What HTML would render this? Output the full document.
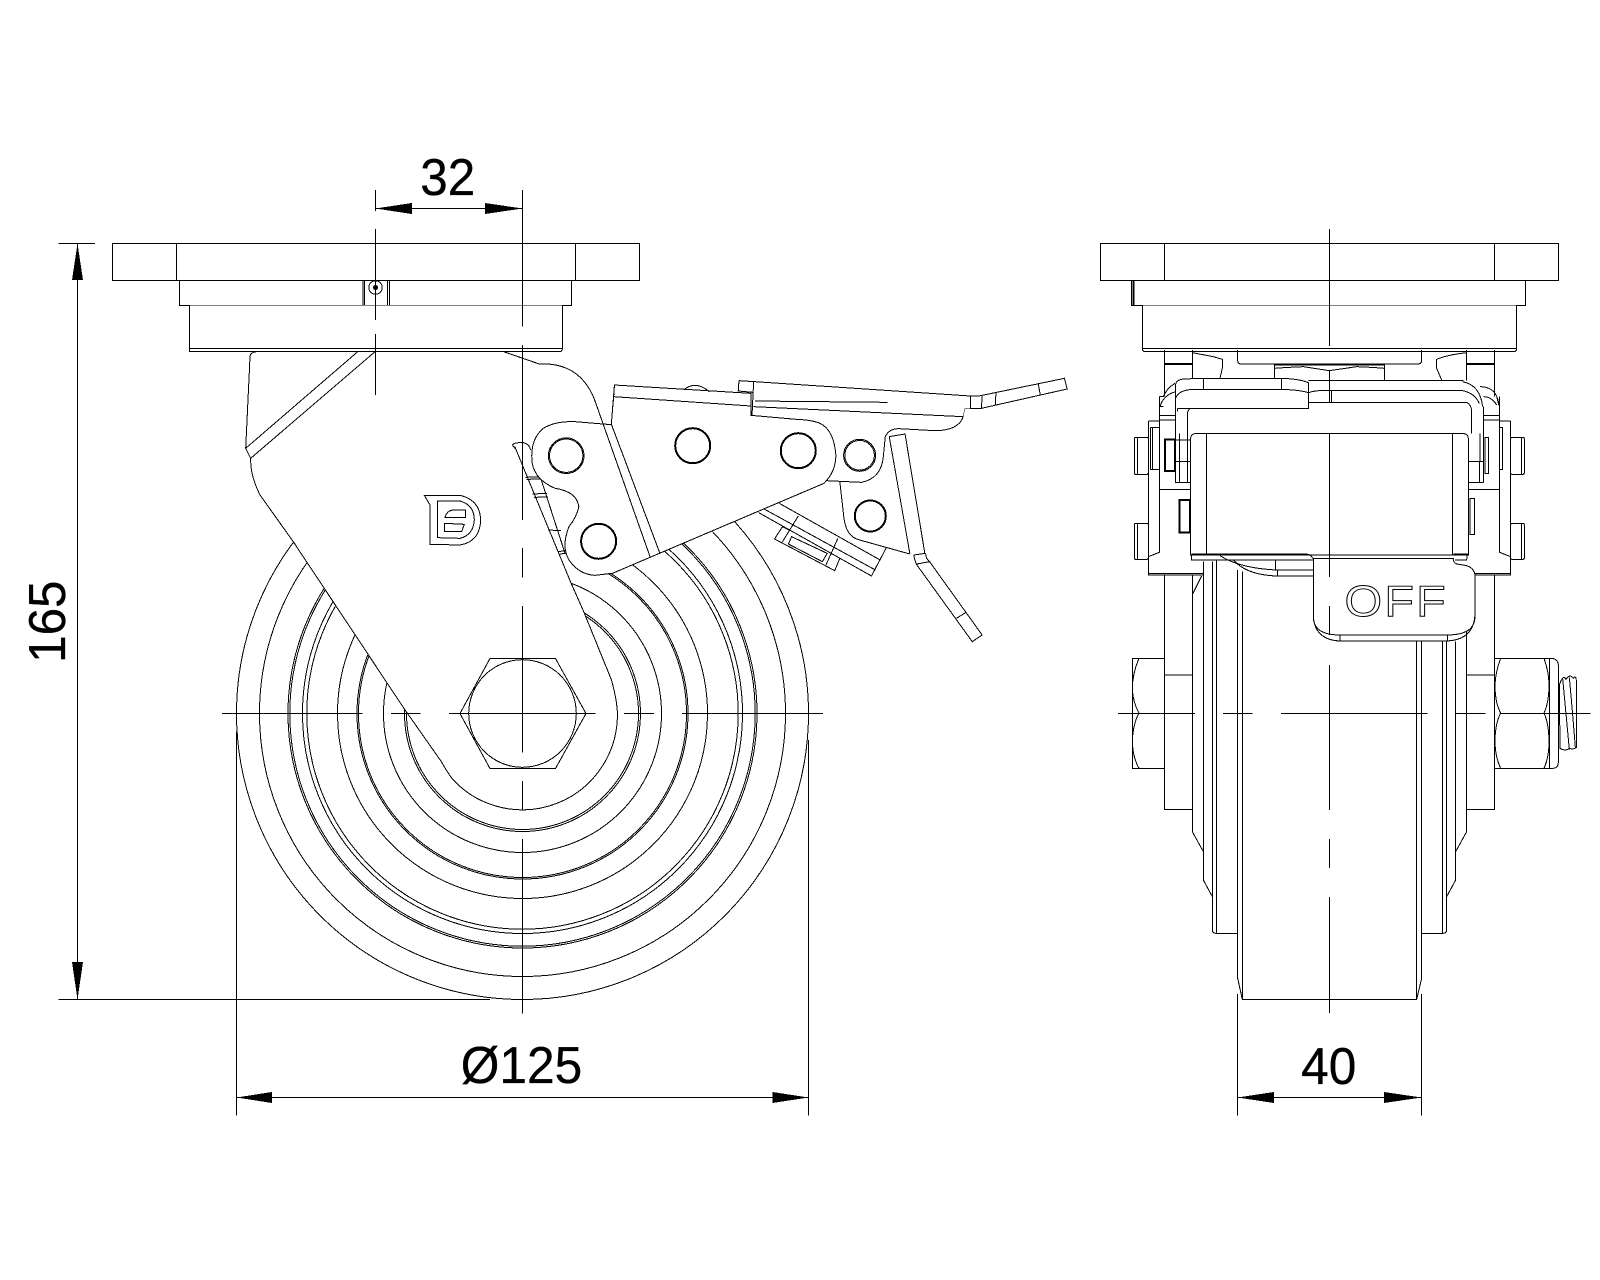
<!DOCTYPE html>
<html><head><meta charset="utf-8"><style>
html,body{margin:0;padding:0;background:#fff}
svg{display:block}
svg *{vector-effect:non-scaling-stroke}
.l{fill:none;stroke:#000;stroke-width:1}
.w{fill:#fff;stroke:#000;stroke-width:1}
.n{fill:#fff;stroke:none}
.t{font-family:"Liberation Sans",sans-serif;font-size:52px;fill:#000;stroke:#000;stroke-width:.3}
</style></head><body>
<svg width="1600" height="1280" viewBox="0 0 1600 1280" xmlns="http://www.w3.org/2000/svg" shape-rendering="crispEdges">
<rect width="1600" height="1280" fill="#fff"/>

<!-- wheel rings -->
<g class="l" fill="none">
<circle cx="522.5" cy="713.5" r="286"/><circle cx="522.5" cy="713.5" r="263"/>
<circle cx="522.5" cy="713.5" r="234.5"/><circle cx="522.5" cy="713.5" r="232.7"/>
<circle cx="522.5" cy="713.5" r="220"/><circle cx="522.5" cy="713.5" r="215.7"/>
<circle cx="522.5" cy="713.5" r="185"/><circle cx="522.5" cy="713.5" r="165.5"/>
<circle cx="522.5" cy="713.5" r="164"/><circle cx="522.5" cy="713.5" r="139"/>
<circle cx="522.5" cy="713.5" r="118"/><circle cx="522.5" cy="713.5" r="116"/>
</g>

<!-- fork -->
<path class="n" d="M256.7,351.7 Q250,352 250,357 L245.7,448.3 L250.7,458.3 Q250,475 260,495 L293.3,541.7 L403.9,708.3 L441.4,761.7 L453.3,780 A95,95 0 0 0 617.4,713.3 Q617,700 611.5,680 L583,610 L571,583 L594.7,400 L539.3,364 L503.7,351.7 Z"/>
<path class="l" d="M256.7,351.7 Q250,352 250,357 L245.7,448.3 L250.7,458.3 Q250,475 260,495 L293.3,541.7 L403.9,708.3 L441.4,761.7 Q447,772 453.3,780 A95,95 0 0 0 617.4,713.3 Q617,700 611.5,680 L583,610 L571,583 L514.8,446.7"/>
<path class="l" d="M503.7,351.7 L539.3,364 Q580,362 594.7,400"/>
<path class="l" d="M357.7,351.7 L245.7,448.3 M375,351.7 L250.7,458.3"/>

<!-- logo -->
<g transform="translate(235,345) scale(.33333)">
<path class="l" d="M568,451 L675,451 Q735,465 737,525 Q735,590 675,600 L585,598 L585,480 Z"/>
<path class="l" d="M607,468 L675,468 Q718,480 718,525 Q715,570 675,580 L607,578 Z"/>
<path class="l" d="M630,518 Q635,497 655,495 L692,495 L692,518 Z M628,535 L688,538 L680,560 L628,560 Z"/>
</g>

<!-- hex bolt -->
<path class="l" d="M490,658.5 H555.5 L586,713.5 L555.5,768.5 H490 L460,713.5 Z"/>
<circle class="l" cx="522.5" cy="713.5" r="53.8"/>

<!-- left view top plate -->
<g class="w">
<rect x="112.5" y="243.5" width="527" height="37"/>
<rect x="179.5" y="280.5" width="392" height="25"/>
<path d="M189.5,305.5 V351.5 H561 L562.5,349 V305.5"/>
</g>
<path class="l" d="M176.5,243.5 V280.5 M575.5,243.5 V280.5 M189.5,348.5 H562.5"/>
<path class="l" d="M363,280.5 V305.5 M364.5,280.5 V305.5 M387.5,280.5 V305.5 M389.5,280.5 V305.5"/>
<circle class="l" cx="375.5" cy="287.5" r="6.7"/><circle cx="375.5" cy="287.5" r="2.5" fill="#000"/>

<!-- lever assembly, zoom coords -->
<g transform="translate(480,340) scale(.39541,.33333)">
<!-- lower rect pieces -->
<path class="l" d="M757,490 L1012,660 M720,508 L1000,690 M705,518 L990,708 L1028,622 M805,528 L765,605 M905,595 L875,675"/>
<path class="l" d="M765,560 L745,597 L897,692 L910,655 M765,560 L785,572 M788,590 L878,640 L866,665 L780,612 Z"/>
<!-- right plate -->
<path class="w" d="M875,422 L965,427 Q1015,415 1020,350 L1025,290 Q1035,265 1060,266 L1150,272 Q1210,272 1225,205 L1222,230 L1222,160 L800,150 L800,420 Z" style="stroke:none"/>
<path class="l" d="M875,422 L965,427 Q1015,415 1020,350 L1025,290 Q1035,265 1060,266 L1150,272 Q1210,272 1222,230 L1225,205 H1240"/>
<path class="l" d="M910,425 L920,530 Q925,590 960,600 L1087,642"/>
<!-- stop piece -->
<path class="l" d="M82,315 Q85,308 100,308 L110,308 Q125,312 128,330 M82,315 L88,325 M155,420 L215,640 M115,412 L155,410 M118,418 L157,417 M133,462 L170,460 M137,472 L172,471 M172,570 L205,572 M198,635 L215,632 M202,642 L218,640"/>
<!-- main plate -->
<path class="w" d="M332,254 L240,245 Q190,243 160,265 Q125,300 132,370 Q140,420 190,445 Q245,455 250,500 Q245,530 225,560 Q205,620 225,660 Q250,703 290,706 L335,700 L870,430 Q900,395 900,345 Q895,270 860,250 Q840,240 800,238 L685,226 L685,198 L338,170 Z"/>
<path class="w" d="M340,135 L685,160 L685,198 L338,170 Z"/>
<path class="l" d="M340,135 L332,255 M290,180 L430,650 M333,255 L455,640 M515,150 Q545,120 580,155"/>
<!-- top lever -->
<path class="n" d="M692,125 L1240,168 L1240,205 L1225,205 L1222,230 L692,200 Z"/>
<path class="l" d="M655,122 L653,153 L690,157 M655,122 L695,125 L1240,168 M695,183 L1030,187 M692,200 L1222,230 M692,125 L688,225 M685,155 V226"/>
<path class="l" d="M1240,168 V205 H1268 L1485,147 L1478,115 L1262,168 Z M1270,168 L1268,205 M1305,158 L1303,195 M1412,132 L1417,165"/>
<!-- pawl -->
<path class="l" d="M1035,290 L1075,282 L1125,640 M1035,290 L1087,640 M1097,645 L1127,640 M1097,645 Q1100,665 1105,675 L1245,905 L1270,885 L1137,665 Q1127,655 1127,640 M1205,835 L1228,818 M1105,672 L1137,665"/>
</g>

<!-- plate holes -->
<g class="l">
<circle cx="566.2" cy="455.7" r="17.8"/><circle cx="566.2" cy="455.7" r="16.7"/>
<circle cx="692.7" cy="445.7" r="18"/><circle cx="692.7" cy="445.7" r="17"/>
<circle cx="798.3" cy="450.7" r="18"/><circle cx="798.3" cy="450.7" r="17"/>
<circle cx="859.6" cy="455.3" r="16"/><circle cx="859.6" cy="455.3" r="14.8"/>
<circle cx="870.3" cy="516" r="16"/><circle cx="870.3" cy="516" r="15"/>
<circle cx="598.6" cy="541.3" r="18"/><circle cx="598.6" cy="541.3" r="17"/>
</g>

<!-- left view centre lines -->
<path class="l" d="M222,713.5 H362.5 M391,713.5 H420.5 M449,713.5 H595.5 M624,713.5 H654 M682,713.5 H823"/>
<path class="l" d="M375.5,229 V320 M375.5,334 V395"/>
<path class="l" d="M522.5,190 V326.5 M522.5,345 V520 M522.5,548 V577.5 M522.5,606 V752.5 M522.5,781 V810 M522.5,839 V1013.5"/>

<!-- left view dimensions -->
<path class="l" d="M375.5,190 V211 M375.5,208.5 H522.5"/>
<polygon points="375.5,208.5 411.8,203 411.8,214" fill="#000"/>
<polygon points="522.5,208.5 485,203 485,214" fill="#000"/>
<text class="t" transform="translate(447.7,195) scale(.95,1)" text-anchor="middle">32</text>

<path class="l" d="M58.5,243.5 H95 M58.5,999.5 H490 M77.5,243.5 V999.5"/>
<polygon points="77.5,243.5 72,280 83,280" fill="#000"/>
<polygon points="77.5,999.5 72,962 83,962" fill="#000"/>
<text class="t" transform="translate(65,621.7) rotate(-90) scale(.95,1)" text-anchor="middle">165</text>

<path class="l" d="M236.5,731.5 V1115.5 M808.5,740 V1115.5 M236.5,1097.5 H808.5"/>
<polygon points="236.5,1097.5 272,1092 272,1103" fill="#000"/>
<polygon points="808.5,1097.5 772.5,1092 772.5,1103" fill="#000"/>
<text class="t" transform="translate(521.5,1083) scale(.955,1)" text-anchor="middle">Ø125</text>

<!-- right view top plate -->
<g class="w">
<rect x="1100.5" y="243.5" width="458" height="37"/>
<rect x="1131.5" y="280.5" width="394" height="25"/>
<path d="M1142.5,305.5 V350 L1144,351.5 H1515 L1516.5,350 V305.5"/>
</g>
<path class="l" d="M1164.5,243.5 V280.5 M1494.5,243.5 V280.5 M1142.5,348.5 H1516.5"/>
<path d="M1133.5,280.5 V305.5" stroke="#000" stroke-width="2" fill="none"/>

<!-- right view body, zoom coords (3x from 1100,340) -->
<g transform="translate(1100,340) scale(.33333)">
<!-- wheel and fork lower -->
<path class="l" d="M193,705 V1408 H277 M193,1005 H277 M277,705 V1475 L310,1535 V1620 L337,1670 V1770 Q337,1780 348,1780 H413 M349,660 V1780 M310,665 V1535 M337,665 V1670 M413,690 V1915 L427,1978 H950 L965,1915 V905 M427,695 V1978 M950,905 V1978"/>
<path class="l" d="M1184,705 V1408 H1100 M1100,1005 H1184 M1100,705 V1475 L1067,1535 V1620 L1040,1670 V1770 Q1040,1780 1029,1780 H964 M1028,905 V1780 M1067,905 V1535 M1040,905 V1670"/>
<path class="l" d="M305,708 L278,762"/>
<!-- left hex -->
<path class="l" d="M193,955 H97 V1285 H193 M117,955 Q97,1000 97,1050 Q100,1090 117,1119 Q100,1150 97,1200 Q97,1250 117,1285"/>
<!-- right nut -->
<g transform="translate(1140,900)">
<path class="l" d="M44,55 H218 Q235,60 235,75 V365 Q235,385 218,385 H44 M208,55 V385"/>
<path class="l" d="M62,55 Q45,100 45,140 Q46,190 62,219 Q46,250 45,300 Q45,350 62,385 M192,55 Q208,100 207,140 Q206,190 192,219 Q206,250 207,300 Q208,350 192,385"/>
<path class="l" d="M238,135 Q250,100 258,118 Q270,100 280,115 Q290,100 290,140 V322 Q280,330 270,325 Q255,335 240,325 L238,135 M248,115 Q258,220 268,328 M268,112 Q278,220 286,322"/>
</g>
<!-- upper fork top -->
<path class="l" d="M193,30 V170 M1184,30 V170 M277,30 V115 M1100,30 V122"/>
<path d="M193,72 H277 M1100,72 H1184" class="l" style="stroke-width:2"/>
<path class="l" d="M277,38 L340,50 L367,58 L368,80 L360,115 M1100,38 Q1040,45 1010,58 L1010,85 L1025,120"/>
<path class="l" d="M413,30 V62 Q413,72 425,72 H952 Q965,72 965,62 V30"/>
<path class="l" d="M524,122 V75 H853 V122 M524,85 Q560,82 610,80 L688,92 L770,80 Q820,82 853,85"/>
<!-- side plates -->
<path class="l" d="M145,243 H178 M145,243 V705 H310 M145,700 H310 M178,637 L145,650 M178,170 V637 M178,227 H227 M178,240 H227 M178,448 H272"/>
<path class="l" d="M1232,243 H1199 M1232,243 V705 H1100 M1232,700 H1100 M1199,637 L1232,650 M1199,170 V637 M1150,227 H1199 M1150,240 H1199 M1105,448 H1199"/>
<rect class="w" x="103" y="292" width="42" height="111" rx="4"/><rect class="w" x="103" y="550" width="42" height="108" rx="4"/>
<rect class="w" x="1232" y="292" width="41" height="111" rx="4"/><rect class="w" x="1232" y="550" width="41" height="108" rx="4"/>
<path class="l" d="M112,292 V403 M112,550 V658 M1264,292 V403 M1264,550 V658"/>
<path class="l" d="M152,263 H178 M152,388 H178 M152,263 V388 M158,263 V388 M1198,263 H1208 V388 H1198"/>
<rect class="l" x="195" y="298" width="30" height="95" style="stroke-width:2"/>
<rect class="l" x="238" y="480" width="32" height="97" style="stroke-width:2"/>
<rect class="l" x="1110" y="475" width="14" height="108"/>
<rect class="l" x="1155" y="292" width="10" height="108"/>
<!-- bolts -->
<path class="l" d="M227,135 V427 H272 M227,300 H272 M227,365 H272 M238,275 V427 M262,225 V427 M227,275 H272"/>
<path class="l" d="M1105,365 H1150 M1105,427 H1150 M1138,365 V427 M1150,200 V427 M1140,190 V365"/>
<!-- shoulder arcs -->
<path class="l" d="M190,170 Q200,145 225,130 M180,200 Q190,165 227,155 M1140,140 Q1170,140 1185,160 Q1195,175 1197,197 M1150,170 Q1175,170 1190,195 M1190,170 L1197,197"/>
<path class="l" d="M178,170 H190 M178,200 H190"/>
<!-- bracket top -->
<path class="w" d="M625,122 H1090 Q1140,135 1148,200 V280 H262 V225 Q262,210 272,205 H625 Z" style="stroke:none"/>
<path class="l" d="M625,122 H1090 M625,158 Q650,150 680,152 H1088 Q1125,160 1138,190 M625,187 H1100 Q1115,195 1115,215 V281 M1088,125 Q1140,135 1148,200 M695,152 V187"/>
<path class="w" d="M227,205 V135 Q227,120 250,117 L310,115 H545 Q600,117 625,128 V205 H272 Q262,210 262,225 V280 H227 Z" style="stroke:none"/>
<path class="l" d="M227,280 V135 Q227,120 250,117 L310,115 H545 Q600,117 625,128 V205 H272 Q262,210 262,225 V281"/>
<path class="l" d="M227,175 Q235,150 280,148 H545 Q600,150 625,158 M310,115 V148 M545,115 V148 M232,205 H272 M232,205 V215"/>
<!-- inner box -->
<path class="w" d="M272,645 V295 Q272,283 285,281 H1092 Q1105,283 1105,295 V645 Z"/>
<path class="l" d="M319,281 V645 M1058,281 V645"/>
<!-- lower edges -->
<path class="l" d="M275,645 V660 H640 M275,642 H620 Q635,645 638,655 M1060,642 H1102 L1100,660 H1065"/>
<path class="l" d="M360,647 Q420,685 530,690 H640 M400,660 Q440,705 530,708 H640 M527,660 V690 M532,690 V708"/>
<!-- lever OFF -->
<path class="w" d="M640,655 H1060 Q1058,665 1070,672 L1090,675 Q1125,680 1125,710 V830 Q1125,885 1040,885 H720 Q640,885 640,830 Z"/>
<path class="l" d="M640,830 Q645,900 720,903 H1040 Q1120,900 1125,825 M720,885 V903 M1042,885 V903"/>
</g>
<text transform="translate(1344.5,616) scale(1.1,1)" font-family="'Liberation Sans',sans-serif" font-size="44" letter-spacing="2" fill="none" stroke="#000" stroke-width="1">OFF</text>

<!-- right view centre lines -->
<path class="l" d="M1329.5,229 V346 M1329.5,370 V403 M1329.5,433 V577 M1329.5,606 V635 M1329.5,665 V810 M1329.5,839 V868 M1329.5,897 V1013"/>
<path class="l" d="M1118,713.5 H1195 M1223,713.5 H1252.5 M1281,713.5 H1427.5 M1455.5,713.5 H1485.5 M1500.5,713.5 H1590.5"/>

<!-- right view dimension -->
<path class="l" d="M1237.5,994 V1115.5 M1421.5,994 V1115.5 M1237.5,1097.5 H1421.5"/>
<polygon points="1237.5,1097.5 1274,1092 1274,1103" fill="#000"/>
<polygon points="1421.5,1097.5 1384,1092 1384,1103" fill="#000"/>
<text class="t" transform="translate(1328.7,1084) scale(.955,1)" text-anchor="middle">40</text>
</svg>
</body></html>
